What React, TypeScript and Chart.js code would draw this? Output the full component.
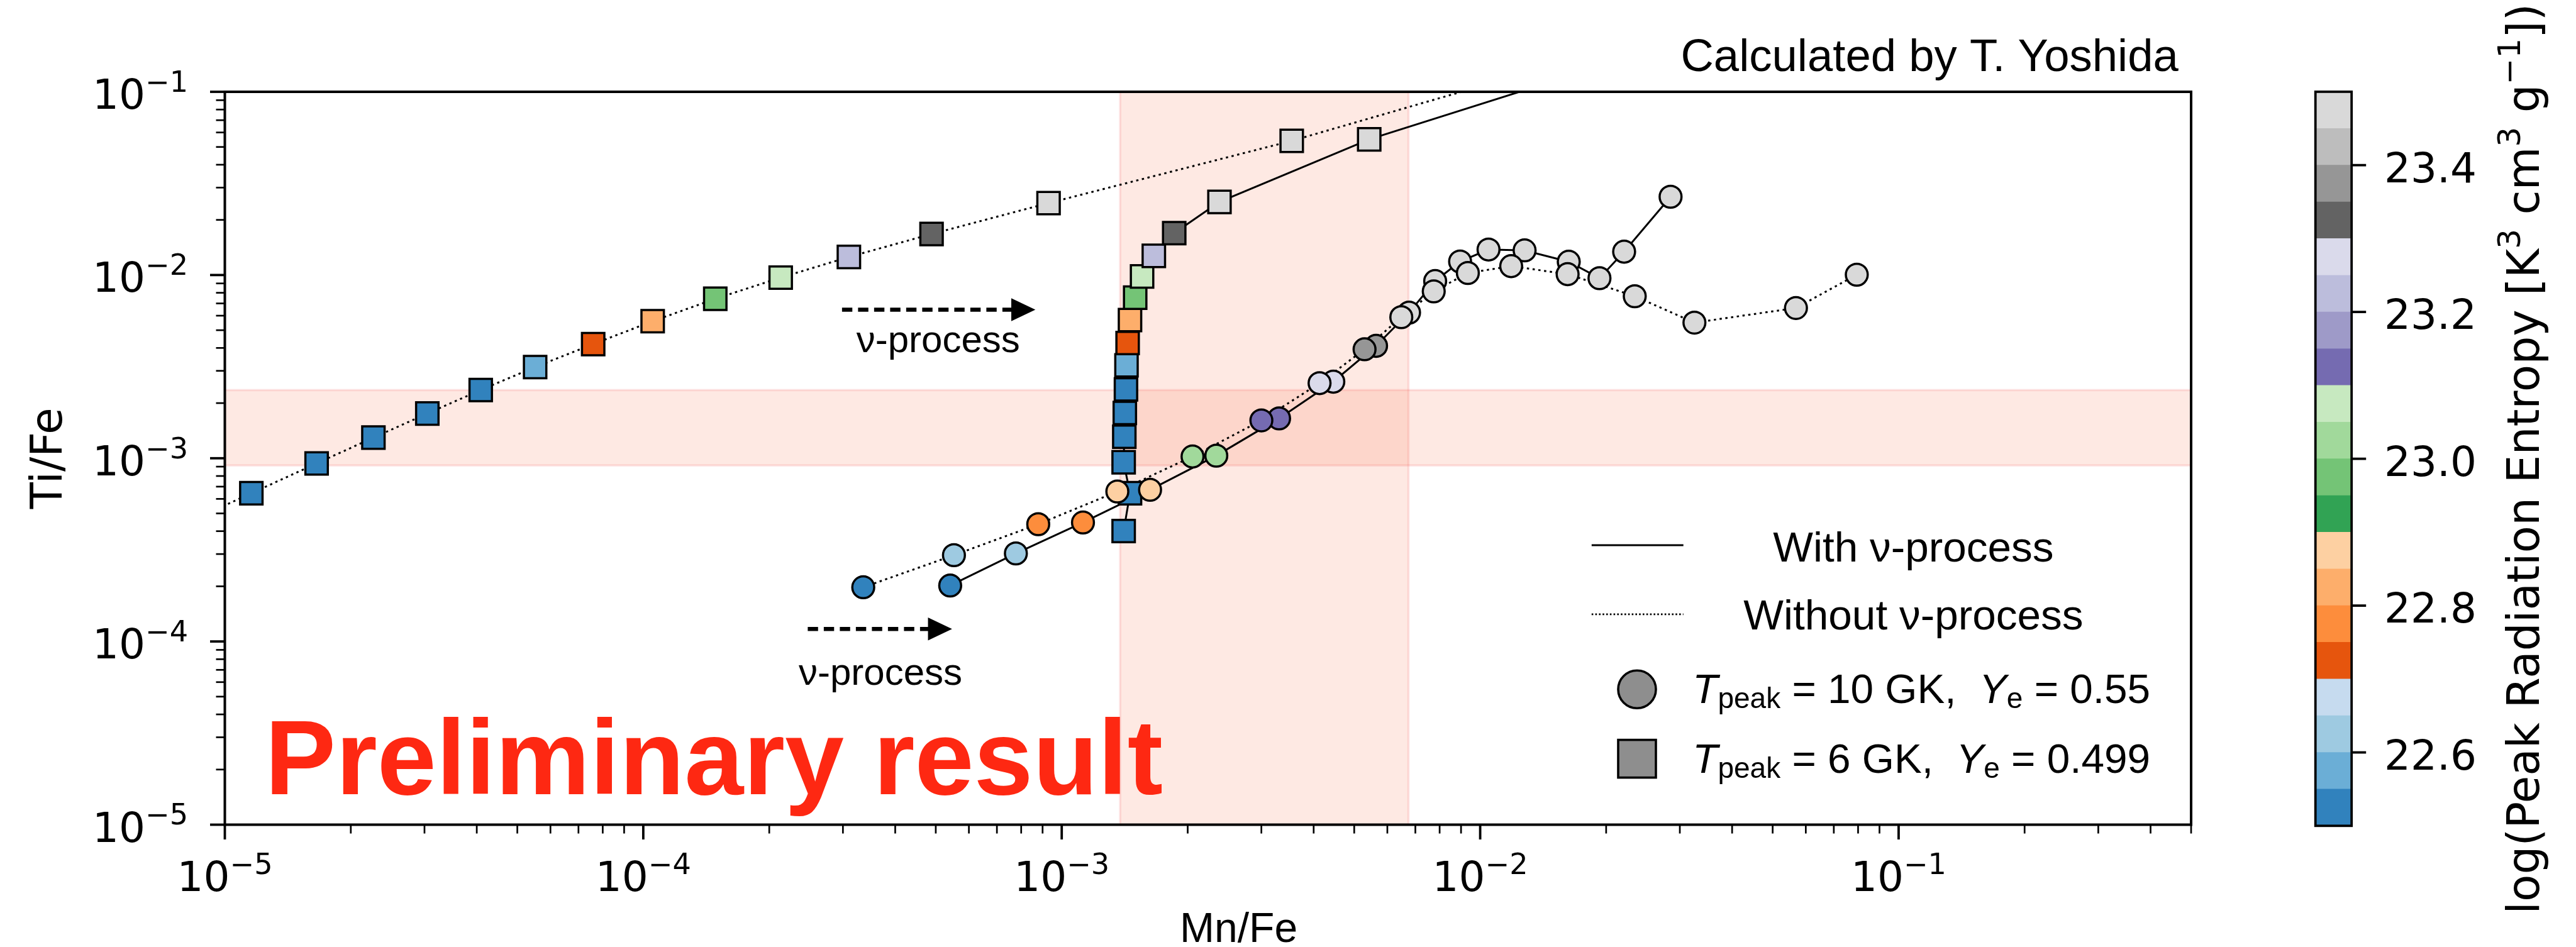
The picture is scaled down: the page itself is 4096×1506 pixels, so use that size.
import React, { useEffect, useRef } from 'react';
import { Chart, registerables } from 'chart.js';

Chart.register(...registerables);

const W = 4096;
const H = 1506;

// ---------------- data ----------------
// T_peak = 6 GK, Ye = 0.499 (squares)
const squaresWithoutX = [8.07e-6, 1.157e-5, 1.657e-5, 2.265e-5, 3.047e-5, 4.088e-5, 5.515e-5, 7.59e-5, 1.053e-4, 1.486e-4, 2.13e-4, 3.10e-4, 4.885e-4, 9.30e-4, 3.545e-3, 1.458e-2];
const squaresWithoutY = [4.43e-4, 6.44e-4, 9.37e-4, 1.296e-3, 1.754e-3, 2.358e-3, 3.146e-3, 4.196e-3, 5.598e-3, 7.417e-3, 9.68e-3, 1.255e-2, 1.674e-2, 2.47e-2, 5.40e-2, 0.1373];
const squaresWithX = [1.406e-3, 1.456e-3, 1.406e-3, 1.411e-3, 1.415e-3, 1.424e-3, 1.428e-3, 1.437e-3, 1.456e-3, 1.498e-3, 1.556e-3, 1.660e-3, 1.857e-3, 2.382e-3, 5.43e-3, 2.746e-2];
const squaresWithY = [4.005e-4, 6.44e-4, 9.51e-4, 1.311e-3, 1.767e-3, 2.375e-3, 3.214e-3, 4.257e-3, 5.68e-3, 7.52e-3, 9.82e-3, 1.273e-2, 1.693e-2, 2.506e-2, 5.50e-2, 0.1774];
const squareEntropy = [21.82, 21.95, 22.07, 22.2, 22.32, 22.45, 22.57, 22.71, 22.83, 22.96, 23.08, 23.21, 23.33, 23.46, 23.58, 23.71];

// T_peak = 10 GK, Ye = 0.55 (circles)
const circlesWithoutX = [3.355e-4, 5.526e-4, 8.787e-4, 1.358e-3, 2.054e-3, 3.0e-3, 4.132e-3, 5.293e-3, 6.479e-3, 7.745e-3, 9.344e-3, 1.186e-2, 1.618e-2, 2.341e-2, 3.251e-2, 5.684e-2, 7.943e-2];
const circlesWithoutY = [1.976e-4, 2.958e-4, 4.365e-4, 6.584e-4, 1.022e-3, 1.609e-3, 2.570e-3, 3.933e-3, 5.888e-3, 8.144e-3, 1.026e-2, 1.118e-2, 1.011e-2, 7.66e-3, 5.498e-3, 6.607e-3, 1.004e-2];
const circlesWithX = [5.413e-4, 7.77e-4, 1.124e-3, 1.626e-3, 2.341e-3, 3.307e-3, 4.457e-3, 5.639e-3, 6.761e-3, 7.806e-3, 8.954e-3, 1.047e-2, 1.277e-2, 1.628e-2, 1.928e-2, 2.208e-2, 2.851e-2];
const circlesWithY = [2.019e-4, 3.023e-4, 4.46e-4, 6.728e-4, 1.033e-3, 1.650e-3, 2.617e-3, 4.107e-3, 6.237e-3, 9.271e-3, 1.185e-2, 1.378e-2, 1.363e-2, 1.182e-2, 9.61e-3, 1.341e-2, 2.674e-2];
const circleEntropy = [22.52, 22.64, 22.77, 22.89, 23.02, 23.14, 23.27, 23.39, 23.52, 23.64, 23.77, 23.89, 24.02, 24.14, 24.27, 24.39, 24.52];

// observed ranges (shaded bands)
const bandMnFe = [1.379e-3, 6.74e-3];
const bandTiFe = [9.14e-4, 2.355e-3];

// axes
const xRange = [1e-5, 0.5];
const yRange = [1e-5, 0.1];
const xTickExponents = [-5, -4, -3, -2, -1];
const yTickExponents = [-5, -4, -3, -2, -1];

// colorbar
const entropyRange = [22.5, 23.5];
const colorbarTicks = [22.6, 22.8, 23.0, 23.2, 23.4];
const TAB20C = ['#3182bd', '#6baed6', '#9ecae1', '#c6dbef', '#e6550d', '#fd8d3c', '#fdae6b', '#fdd0a2', '#31a354', '#74c476', '#a1d99b', '#c7e9c0', '#756bb1', '#9e9ac8', '#bcbddc', '#dadaeb', '#636363', '#969696', '#bdbdbd', '#d9d9d9'];

// annotation arrows (data coordinates)
const arrowUpper = { x0: 2.985e-4, x1: 8.65e-4, y: 6.465e-3, labelX: 5.066e-4, labelY: 3.79e-3 };
const arrowLower = { x0: 2.472e-4, x1: 5.47e-4, y: 1.17e-4, labelX: 3.688e-4, labelY: 5.80e-5 };

// ---------------- helpers ----------------
const DJV = '"DejaVu Sans", sans-serif';
const LIB = '"Liberation Sans", Arial, Helvetica, sans-serif';

function cmap(v: number): string {
  const n = TAB20C.length;
  const step = (entropyRange[1] - entropyRange[0]) / n;
  let i = Math.floor((v - entropyRange[0]) / step + 1e-9);
  if (i < 0) i = 0;
  if (i > n - 1) i = n - 1;
  return TAB20C[i];
}

function zip(xs: number[], ys: number[]) {
  return xs.map((x, i) => ({ x, y: ys[i] }));
}

type Part = { t: string; font: string; dy?: number };

function richWidth(ctx: CanvasRenderingContext2D, parts: Part[]) {
  let w = 0;
  for (const p of parts) {
    ctx.font = p.font;
    w += ctx.measureText(p.t).width;
  }
  return w;
}

function drawRich(ctx: CanvasRenderingContext2D, x: number, y: number, parts: Part[]) {
  let cx = x;
  ctx.textAlign = 'left';
  ctx.textBaseline = 'alphabetic';
  for (const p of parts) {
    ctx.font = p.font;
    ctx.fillText(p.t, cx, y + (p.dy || 0));
    cx += ctx.measureText(p.t).width;
  }
}

function powParts(k: number, F: number): Part[] {
  return [
    { t: '10', font: `${F}px ${DJV}` },
    { t: '\u2212' + Math.abs(k), font: `${(F * 0.7).toFixed(1)}px ${DJV}`, dy: -0.41 * F },
  ];
}

function drawArrow(ctx: CanvasRenderingContext2D, x0: number, tip: number, y: number) {
  const headLen = 38.3;
  const headHalf = 18.2;
  ctx.save();
  ctx.strokeStyle = '#000';
  ctx.fillStyle = '#000';
  ctx.lineWidth = 6.4;
  ctx.lineCap = 'butt';
  ctx.setLineDash([16.4, 9.1]);
  ctx.beginPath();
  ctx.moveTo(x0, y);
  ctx.lineTo(tip - headLen + 2, y);
  ctx.stroke();
  ctx.setLineDash([]);
  ctx.beginPath();
  ctx.moveTo(tip, y);
  ctx.lineTo(tip - headLen, y - headHalf);
  ctx.lineTo(tip - headLen, y + headHalf);
  ctx.closePath();
  ctx.fill();
  ctx.restore();
}

const BAND_FILL = 'rgba(250,110,70,0.15)';
const BAND_EDGE = 'rgba(240,80,80,0.16)';

const mainPlugin = {
  id: 'mainDecor',
  beforeDatasetsDraw(chart: any) {
    const { ctx, chartArea: a, scales } = chart;
    const xs = scales.x;
    const ys = scales.y;
    ctx.save();
    ctx.beginPath();
    ctx.rect(a.left, a.top, a.right - a.left, a.bottom - a.top);
    ctx.clip();
    const bx0 = xs.getPixelForValue(bandMnFe[0]);
    const bx1 = xs.getPixelForValue(bandMnFe[1]);
    const by0 = ys.getPixelForValue(bandTiFe[1]);
    const by1 = ys.getPixelForValue(bandTiFe[0]);
    ctx.fillStyle = BAND_FILL;
    ctx.fillRect(bx0, a.top, bx1 - bx0, a.bottom - a.top);
    ctx.fillRect(a.left, by0, a.right - a.left, by1 - by0);
    ctx.strokeStyle = BAND_EDGE;
    ctx.lineWidth = 3.5;
    ctx.strokeRect(bx0, a.top - 5, bx1 - bx0, a.bottom - a.top + 10);
    ctx.strokeRect(a.left - 5, by0, a.right - a.left + 10, by1 - by0);
    ctx.restore();
  },
  afterDatasetsDraw(chart: any) {
    const { ctx, chartArea: a, scales } = chart;
    const xs = scales.x;
    const ys = scales.y;
    ctx.save();
    ctx.fillStyle = '#000';
    ctx.strokeStyle = '#000';

    // frame
    ctx.lineWidth = 4;
    ctx.strokeRect(a.left, a.top, a.right - a.left, a.bottom - a.top);

    // x ticks
    const majLen = 23.5;
    const minLen = 14;
    for (const k of xTickExponents) {
      const px = xs.getPixelForValue(Math.pow(10, k));
      ctx.lineWidth = 3.8;
      ctx.beginPath();
      ctx.moveTo(px, a.bottom);
      ctx.lineTo(px, a.bottom + majLen);
      ctx.stroke();
      for (let m = 2; m <= 9; m++) {
        const v = m * Math.pow(10, k);
        if (v > xRange[1] * 1.0001) break;
        const pm = xs.getPixelForValue(v);
        ctx.lineWidth = 2.7;
        ctx.beginPath();
        ctx.moveTo(pm, a.bottom);
        ctx.lineTo(pm, a.bottom + minLen);
        ctx.stroke();
      }
    }
    // y ticks
    for (const k of yTickExponents) {
      const py = ys.getPixelForValue(Math.pow(10, k));
      ctx.lineWidth = 3.8;
      ctx.beginPath();
      ctx.moveTo(a.left, py);
      ctx.lineTo(a.left - majLen, py);
      ctx.stroke();
      for (let m = 2; m <= 9; m++) {
        const v = m * Math.pow(10, k);
        if (v > yRange[1] * 1.0001) break;
        const pm = ys.getPixelForValue(v);
        ctx.lineWidth = 2.7;
        ctx.beginPath();
        ctx.moveTo(a.left, pm);
        ctx.lineTo(a.left - minLen, pm);
        ctx.stroke();
      }
    }

    // tick labels
    const F = 66;
    for (const k of xTickExponents) {
      const px = xs.getPixelForValue(Math.pow(10, k));
      const parts = powParts(k, F);
      const w = richWidth(ctx, parts);
      drawRich(ctx, px - w / 2, a.bottom + 105.2, parts);
    }
    for (const k of yTickExponents) {
      const py = ys.getPixelForValue(Math.pow(10, k));
      const parts = powParts(k, F);
      const w = richWidth(ctx, parts);
      drawRich(ctx, a.left - 58.4 - w, py + 27, parts);
    }

    // axis labels
    ctx.font = `66px ${LIB}`;
    ctx.textAlign = 'center';
    ctx.textBaseline = 'alphabetic';
    ctx.fillText('Mn/Fe', 1969.6, 1498);

    ctx.save();
    ctx.translate(97.6, (a.top + a.bottom) / 2);
    ctx.rotate(-Math.PI / 2);
    ctx.font = `69px ${DJV}`;
    ctx.textAlign = 'center';
    ctx.fillText('Ti/Fe', 0, 0);
    ctx.restore();

    // credit
    ctx.font = `72.5px ${LIB}`;
    ctx.textAlign = 'right';
    ctx.fillText('Calculated by T. Yoshida', 3463.8, 112.7);

    // arrows
    for (const ar of [arrowUpper, arrowLower]) {
      const x0 = xs.getPixelForValue(ar.x0);
      const x1 = xs.getPixelForValue(ar.x1);
      const py = ys.getPixelForValue(ar.y);
      drawArrow(ctx, x0, x1, py);
      ctx.font = `60px ${LIB}`;
      ctx.textAlign = 'center';
      ctx.fillStyle = '#000';
      ctx.fillText('\u03bd-process', xs.getPixelForValue(ar.labelX), ys.getPixelForValue(ar.labelY));
    }

    // Preliminary result
    ctx.font = `bold 169px ${LIB}`;
    ctx.textAlign = 'left';
    ctx.fillStyle = '#fe2812';
    ctx.fillText('Preliminary result', 421.3, 1263.1);

    // legend
    ctx.fillStyle = '#000';
    ctx.strokeStyle = '#000';
    ctx.lineWidth = 2.8;
    ctx.beginPath();
    ctx.moveTo(2530.8, 867);
    ctx.lineTo(2676.7, 867);
    ctx.stroke();
    ctx.setLineDash([2.6, 3.2]);
    ctx.beginPath();
    ctx.moveTo(2530.8, 976.8);
    ctx.lineTo(2676.7, 976.8);
    ctx.stroke();
    ctx.setLineDash([]);
    ctx.font = `67.5px ${LIB}`;
    ctx.textAlign = 'center';
    ctx.fillText('With \u03bd-process', 3042.4, 892.8);
    ctx.fillText('Without \u03bd-process', 3042.4, 1001.4);

    ctx.fillStyle = '#8e8e8e';
    ctx.lineWidth = 3.6;
    ctx.beginPath();
    ctx.arc(2603, 1096.2, 30, 0, Math.PI * 2);
    ctx.fill();
    ctx.stroke();
    ctx.fillRect(2573, 1176.6, 60, 60);
    ctx.strokeRect(2573, 1176.6, 60, 60);

    ctx.fillStyle = '#000';
    const S = 65.7;
    const it = `italic ${S}px ${LIB}`;
    const rm = `${S}px ${LIB}`;
    const sub = `${(S * 0.7).toFixed(1)}px ${LIB}`;
    const subDy = 0.12 * S;
    drawRich(ctx, 2691.3, 1117.7, [
      { t: 'T', font: it },
      { t: 'peak', font: sub, dy: subDy },
      { t: ' = 10 GK,  ', font: rm },
      { t: 'Y', font: it },
      { t: 'e', font: sub, dy: subDy },
      { t: ' = 0.55', font: rm },
    ]);
    drawRich(ctx, 2691.3, 1228.8, [
      { t: 'T', font: it },
      { t: 'peak', font: sub, dy: subDy },
      { t: ' = 6 GK,  ', font: rm },
      { t: 'Y', font: it },
      { t: 'e', font: sub, dy: subDy },
      { t: ' = 0.499', font: rm },
    ]);

    ctx.restore();
  },
};

const colorbarPlugin = {
  id: 'colorbarDecor',
  afterDraw(chart: any) {
    const { ctx, chartArea: a, scales } = chart;
    const ys = scales.y;
    ctx.save();
    ctx.strokeStyle = '#000';
    ctx.fillStyle = '#000';
    ctx.lineWidth = 3.8;
    ctx.strokeRect(a.left, a.top, a.right - a.left, a.bottom - a.top);
    const F = 66;
    ctx.font = `${F}px ${DJV}`;
    ctx.textAlign = 'left';
    ctx.textBaseline = 'alphabetic';
    for (const t of colorbarTicks) {
      const py = ys.getPixelForValue(t);
      ctx.beginPath();
      ctx.moveTo(a.right, py);
      ctx.lineTo(a.right + 23, py);
      ctx.stroke();
      ctx.fillText(t.toFixed(1), a.right + 51.8, py + 27);
    }
    // rotated label
    const L = 71;
    const rm = `${L}px ${DJV}`;
    const sup = `${(L * 0.7).toFixed(1)}px ${DJV}`;
    const supDy = -0.41 * L;
    const parts: Part[] = [
      { t: 'log(Peak Radiation Entropy [K', font: rm },
      { t: '3', font: sup, dy: supDy },
      { t: ' cm', font: rm },
      { t: '3', font: sup, dy: supDy },
      { t: ' g', font: rm },
      { t: '\u22121', font: sup, dy: supDy },
      { t: '])', font: rm },
    ];
    ctx.translate(a.right + 297.3, (a.top + a.bottom) / 2);
    ctx.rotate(-Math.PI / 2);
    const w = richWidth(ctx, parts);
    drawRich(ctx, -w / 2, 0, parts);
    ctx.restore();
  },
};

export default function App() {
  const mainRef = useRef<HTMLCanvasElement>(null);
  const cbRef = useRef<HTMLCanvasElement>(null);

  useEffect(() => {
    const markerBase = {
      showLine: false,
      borderWidth: 0,
      pointBorderColor: '#000',
      pointBorderWidth: 3.5,
      clip: 0,
    };
    const lineBase = {
      showLine: true,
      pointRadius: 0,
      borderColor: '#000',
      borderWidth: 3,
      backgroundColor: 'transparent',
      clip: 0,
      order: 10,
    };
    const dotted = [3.6, 5.6];

    const main = new Chart(mainRef.current as HTMLCanvasElement, {
      type: 'scatter',
      data: {
        datasets: [
          { ...lineBase, label: 'sq with line', data: zip(squaresWithX, squaresWithY) },
          { ...lineBase, label: 'sq without line', data: zip(squaresWithoutX, squaresWithoutY), borderDash: dotted },
          { ...lineBase, label: 'ci with line', data: zip(circlesWithX, circlesWithY) },
          { ...lineBase, label: 'ci without line', data: zip(circlesWithoutX, circlesWithoutY), borderDash: dotted },
          {
            ...markerBase, label: 'T6 with', order: 4, data: zip(squaresWithX, squaresWithY),
            pointStyle: 'rect', pointRadius: 25.2, pointBackgroundColor: squareEntropy.map(cmap),
          },
          {
            ...markerBase, label: 'T6 without', order: 3, data: zip(squaresWithoutX, squaresWithoutY),
            pointStyle: 'rect', pointRadius: 25.2, pointBackgroundColor: squareEntropy.map(cmap),
          },
          {
            ...markerBase, label: 'T10 with', order: 2, data: zip(circlesWithX, circlesWithY),
            pointStyle: 'circle', pointRadius: 17.4, pointBackgroundColor: circleEntropy.map(cmap),
          },
          {
            ...markerBase, label: 'T10 without', order: 1, data: zip(circlesWithoutX, circlesWithoutY),
            pointStyle: 'circle', pointRadius: 17.4, pointBackgroundColor: circleEntropy.map(cmap),
          },
        ] as any,
      },
      options: {
        animation: false,
        responsive: false,
        devicePixelRatio: 1,
        events: [],
        layout: { padding: { left: 0, top: 146, right: W - 3484, bottom: 0 } },
        plugins: { legend: { display: false }, tooltip: { enabled: false } },
        scales: {
          x: {
            type: 'logarithmic', min: xRange[0], max: xRange[1],
            ticks: { display: false }, grid: { display: false }, border: { display: false },
            afterFit: (s: any) => { s.height = H - 1311.5; },
          },
          y: {
            type: 'logarithmic', min: yRange[0], max: yRange[1],
            ticks: { display: false }, grid: { display: false }, border: { display: false },
            afterFit: (s: any) => { s.width = 357.5; },
          },
        },
      } as any,
      plugins: [mainPlugin],
    });

    const n = TAB20C.length;
    const step = (entropyRange[1] - entropyRange[0]) / n;
    const cb = new Chart(cbRef.current as HTMLCanvasElement, {
      type: 'bar',
      data: {
        labels: [''],
        datasets: TAB20C.map((c, i) => ({
          label: 'band' + i,
          data: [[entropyRange[0] + i * step, entropyRange[0] + (i + 1) * step]],
          backgroundColor: c,
          borderWidth: 0,
          grouped: false,
          barPercentage: 1,
          categoryPercentage: 1,
        })) as any,
      },
      options: {
        animation: false,
        responsive: false,
        devicePixelRatio: 1,
        events: [],
        layout: { padding: { left: 3681.7, top: 145.9, right: W - 3739.2, bottom: H - 1313.3 } },
        plugins: { legend: { display: false }, tooltip: { enabled: false } },
        scales: {
          x: { display: false },
          y: { display: false, min: entropyRange[0], max: entropyRange[1] },
        },
      } as any,
      plugins: [colorbarPlugin],
    });

    return () => {
      main.destroy();
      cb.destroy();
    };
  }, []);

  return (
    <div style={{ position: 'fixed', left: 0, top: 0, width: W, height: H, background: '#fff', overflow: 'hidden' }}>
      <canvas ref={mainRef} width={W} height={H} style={{ position: 'absolute', left: 0, top: 0, width: W, height: H }} />
      <canvas ref={cbRef} width={W} height={H} style={{ position: 'absolute', left: 0, top: 0, width: W, height: H }} />
    </div>
  );
}
